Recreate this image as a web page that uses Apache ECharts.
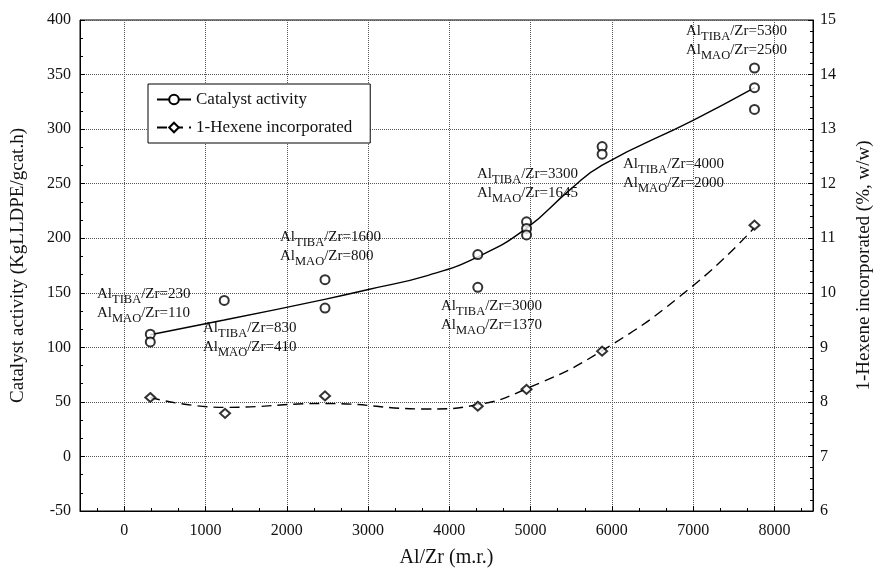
<!DOCTYPE html>
<html><head><meta charset="utf-8">
<script src="https://cdn.jsdelivr.net/npm/echarts@6/dist/echarts.min.js"></script>
<style>html,body{margin:0;padding:0;background:#fff}#c{width:882px;height:573px}</style>
</head><body><div id="c"></div>
<script>
// Measured points: catalyst activity (KgLLDPE/gcat.h)
const actX = [320, 320, 1230, 2470, 2470, 4350, 4350, 4950, 4950, 4950, 5880, 5880, 7755, 7755, 7755];
const actY = [112, 105, 143, 162, 136, 185, 155, 215, 209, 203, 284, 277, 356, 338, 318];
// Measured points: 1-hexene incorporated (%, w/w)
const hexX = [320, 1240, 2470, 4350, 4950, 5880, 7755];
const hexY = [8.08, 7.79, 8.11, 7.92, 8.23, 8.93, 11.24];
// Fitted curves
const actFitX = [320, 1230, 2466, 3005, 3739, 4351, 4947, 5493, 5881, 6999, 7758];
const actFitY = [111.5, 125, 144, 153, 166, 183, 209, 245, 267, 308, 338];
const hexFitX = [320, 1230, 2466, 3739, 4351, 4947, 5881, 6999, 7758];
const hexFitY = [8.08, 7.9, 7.97, 7.87, 7.95, 8.24, 8.94, 10.13, 11.2];
// Annotation labels
const annTiba = ['230', '830', '1600', '3000', '3300', '4000', '5300'];
const annMao = ['110', '410', '800', '1370', '1645', '2000', '2500'];
const annPos = [[97, 287], [203, 321], [280, 230], [441, 299], [477, 167], [623, 157], [686, 24]];

const F = '"Liberation Serif", "Times New Roman", serif';
const zip = (a, b) => a.map((v, i) => [v, b[i]]);

const rich = {
  m: { fontSize: 15, fontFamily: F, fill: '#111', lineHeight: 19, verticalAlign: 'top' },
  s: { fontSize: 12.5, fontFamily: F, fill: '#111', lineHeight: 10, verticalAlign: 'bottom' }
};
const graphics = annTiba.map((t, i) => ({
  type: 'text', left: annPos[i][0], top: annPos[i][1], z: 10,
  style: {
    text: '{m|Al}{s|TIBA}{m|/Zr=' + t + '}\n{m|Al}{s|MAO}{m|/Zr=' + annMao[i] + '}',
    rich: rich, fill: '#111', font: '15px ' + F
  }
}));

const chart = echarts.init(document.getElementById('c'), null, { renderer: 'canvas' });
const axisLabelStyle = { color: '#111', fontSize: 16, fontFamily: F };
chart.setOption({
  backgroundColor: '#fff',
  animation: false,
  textStyle: { fontFamily: F },
  grid: { left: 80, right: 65, top: 20, bottom: 60, show: true, borderColor: '#000', borderWidth: 1 },
  legend: {
    data: ['Catalyst activity', '1-Hexene incorporated'],
    orient: 'vertical', left: 148, top: 84,
    backgroundColor: '#fff', borderColor: '#000', borderWidth: 1,
    padding: [7, 18, 7, 8], itemGap: 11, itemWidth: 34, itemHeight: 12,
    textStyle: { fontSize: 17, fontFamily: F, color: '#111' }
  },
  xAxis: {
    type: 'value', min: -545, max: 8475, splitNumber: 9,
    name: 'Al/Zr (m.r.)', nameLocation: 'middle', nameGap: 37,
    nameTextStyle: { fontSize: 20, fontFamily: F, color: '#111' },
    axisLine: { show: true, onZero: false, lineStyle: { color: '#000' } },
    axisTick: { show: true, inside: true, length: 5, lineStyle: { color: '#000' } },
    minorTick: { show: true, splitNumber: 3, length: 3, lineStyle: { color: '#000' } },
    axisLabel: Object.assign({ margin: 12, showMinLabel: false, showMaxLabel: false,
      formatter: v => String(Math.round(v)) }, axisLabelStyle),
    splitLine: { show: true, lineStyle: { type: 'dotted', color: '#555', width: 1 } }
  },
  yAxis: [{
    type: 'value', min: -50, max: 400, interval: 50,
    name: 'Catalyst activity (KgLLDPE/gcat.h)', nameLocation: 'middle', nameGap: 52, nameRotate: 90,
    nameTextStyle: { fontSize: 19, fontFamily: F, color: '#111' },
    axisLine: { show: true, onZero: false, lineStyle: { color: '#000' } },
    axisTick: { show: true, inside: true, length: 5, lineStyle: { color: '#000' } },
    minorTick: { show: true, splitNumber: 3, length: 3, lineStyle: { color: '#000' } },
    axisLabel: Object.assign({ margin: 9 }, axisLabelStyle),
    splitLine: { show: true, lineStyle: { type: 'dotted', color: '#555', width: 1 } }
  }, {
    type: 'value', min: 6, max: 15, interval: 1, position: 'right',
    name: '1-Hexene incorporated (%, w/w)', nameLocation: 'middle', nameGap: 42, nameRotate: 90,
    nameTextStyle: { fontSize: 19, fontFamily: F, color: '#111' },
    axisLine: { show: true, onZero: false, lineStyle: { color: '#000' } },
    axisTick: { show: true, inside: true, length: 5, lineStyle: { color: '#000' } },
    minorTick: { show: true, splitNumber: 5, length: 3, lineStyle: { color: '#000' } },
    axisLabel: Object.assign({ margin: 7 }, axisLabelStyle),
    splitLine: { show: false }
  }],
  series: [{
    name: 'Catalyst activity', type: 'line', yAxisIndex: 0,
    data: zip(actFitX, actFitY), smooth: 0.5,
    showSymbol: false, symbol: 'emptyCircle', symbolSize: 9,
    itemStyle: { color: '#000' },
    lineStyle: { color: '#000', width: 1.4 }, z: 3
  }, {
    name: '1-Hexene incorporated', type: 'line', yAxisIndex: 1,
    data: zip(hexFitX, hexFitY), smooth: 0.5,
    showSymbol: false, symbol: 'emptyDiamond', symbolSize: 10,
    itemStyle: { color: '#000' },
    lineStyle: { color: '#000', width: 1.4, type: [10, 6] }, z: 3
  }, {
    name: 'activity points', type: 'scatter', yAxisIndex: 0,
    data: zip(actX, actY), symbol: 'emptyCircle', symbolSize: 9,
    itemStyle: { color: '#000', borderColor: '#000', borderWidth: 1.7 }, z: 4
  }, {
    name: 'hexene points', type: 'scatter', yAxisIndex: 1,
    data: zip(hexX, hexY), symbol: 'emptyDiamond', symbolSize: [10, 9],
    itemStyle: { color: '#000', borderColor: '#000', borderWidth: 1.5 }, z: 4
  }],
  graphic: graphics
});
</script>
</body></html>
